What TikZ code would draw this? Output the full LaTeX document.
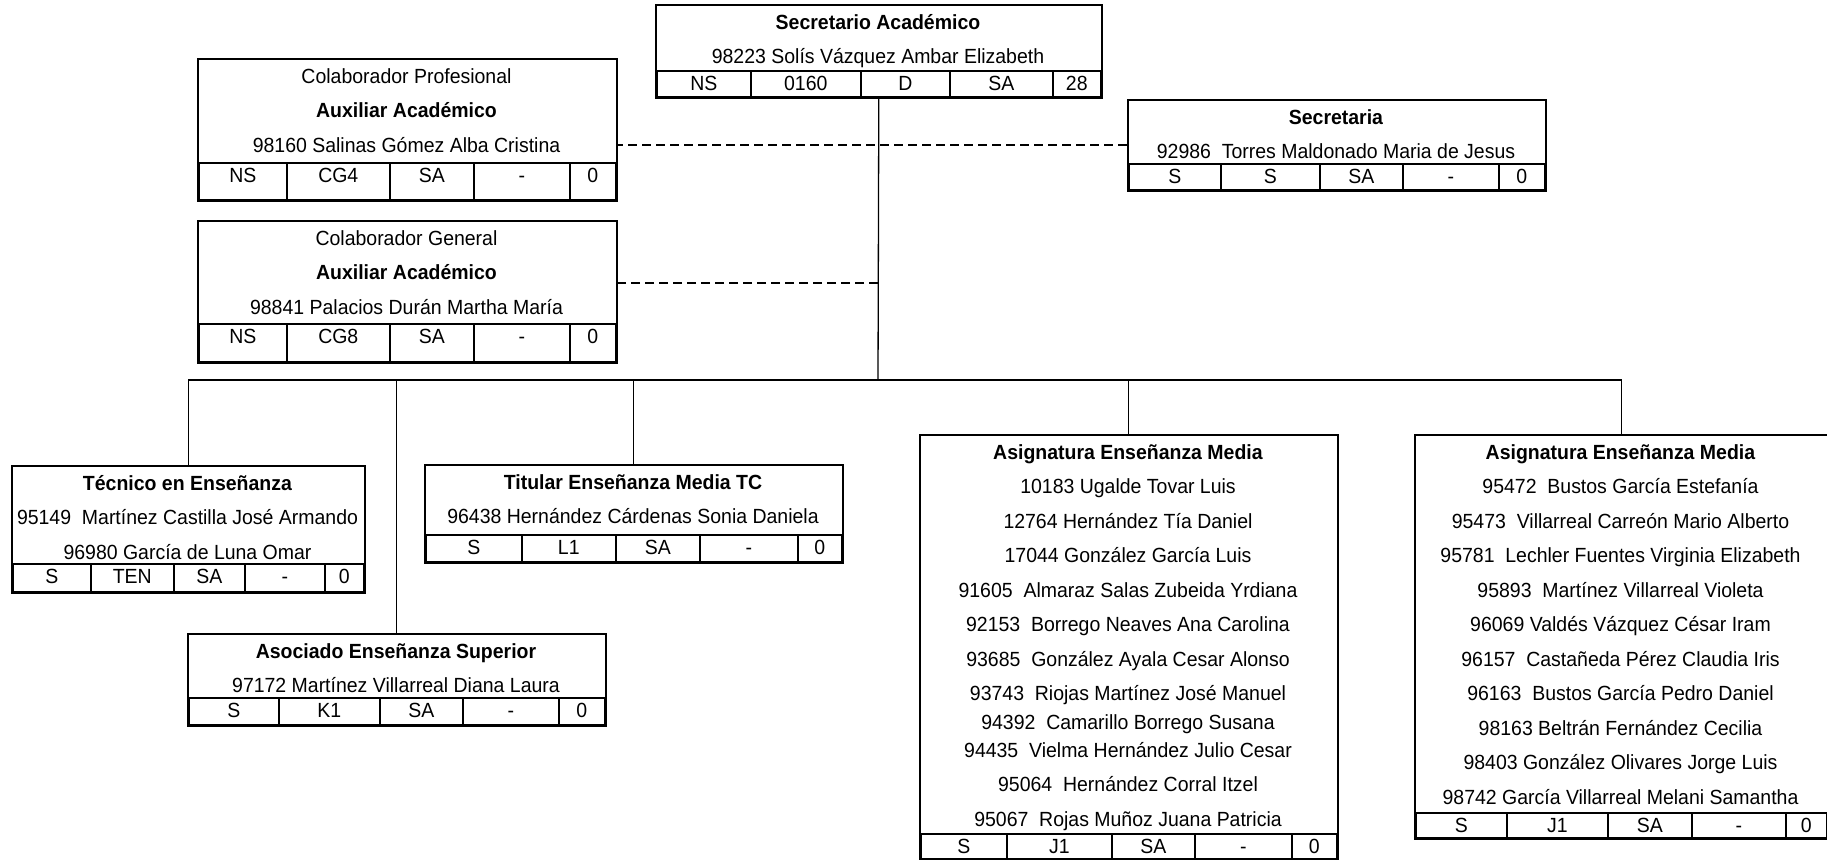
\documentclass[tikz,border=0pt]{standalone}
\usepackage{fontspec}
\setmainfont{Liberation Sans}[FakeStretch=0.95]
\usetikzlibrary{fit}

\begin{document}
\begin{tikzpicture}[
				x=1pt, y=-1pt,
				txt/.style={align=center, inner sep=0pt, anchor=north, font=\fontsize{20.5}{34.5}\selectfont},
				cell/.style={draw, line width=1.6pt, inner sep=0pt, anchor=north west, text height=20pt, font=\fontsize{20.5}{20}\selectfont},
				frame/.style={draw, line width=2.2pt, inner sep=0pt},
				link/.style={line width=1.3pt},
				dashlink/.style={line width=1.8pt, dash pattern=on 9pt off 5pt}
				]
				\useasboundingbox (0,0) rectangle (1827,859);
				
				\node[txt] (sa-t) at (878,5) {\strut\textbf{Secretario Académico}\\98223 Solís Vázquez Ambar Elizabeth};
				\foreach \xa/\xb/\val [count=\i] in {656/750/NS, 750/860/0160, 860/949/D, 949/1052/SA, 1052/1100/28}
					\node[cell, text depth=6pt, minimum width={(\xb-\xa)*1pt}] (sa\i) at (\xa,70) {\val};
				\node[frame, fit=(sa-t.north)(sa1)(sa5)] (sa) {};
				
				\node[txt] (sc-t) at (1336,100) {\strut\textbf{Secretaria}\\92986~ Torres Maldonado Maria de Jesus};
				\foreach \xa/\xb/\val [count=\i] in {1128/1220/S, 1220/1319/S, 1319/1402/SA, 1402/1498/-, 1498/1544/0}
					\node[cell, text depth=6pt, minimum width={(\xb-\xa)*1pt}] (sc\i) at (\xa,163) {\val};
				\node[frame, fit=(sc-t.north)(sc1)(sc5)] (sc) {};
				
				\node[txt] (cp-t) at (406.5,59) {\strut Colaborador Profesional\\\textbf{Auxiliar Académico}\\98160 Salinas Gómez Alba Cristina};
				\foreach \xa/\xb/\val [count=\i] in {198/286/NS, 286/389/CG4, 389/473/SA, 473/569/-, 569/615/0}
					\node[cell, text depth=17pt, minimum width={(\xb-\xa)*1pt}] (cp\i) at (\xa,162) {\val};
				\node[frame, fit=(cp-t.north)(cp1)(cp5)] (cp) {};
				
				\node[txt] (cg-t) at (406.5,221) {\strut Colaborador General\\\textbf{Auxiliar Académico}\\98841 Palacios Durán Martha María};
				\foreach \xa/\xb/\val [count=\i] in {198/286/NS, 286/389/CG8, 389/473/SA, 473/569/-, 569/615/0}
					\node[cell, text depth=18pt, minimum width={(\xb-\xa)*1pt}] (cg\i) at (\xa,323) {\val};
				\node[frame, fit=(cg-t.north)(cg1)(cg5)] (cg) {};
				
				\node[txt] (te-t) at (187.5,466) {\strut\textbf{Técnico en Enseñanza}\\95149~ Martínez Castilla José Armando\\96980 García de Luna Omar};
				\foreach \xa/\xb/\val [count=\i] in {12/90/S, 90/173/TEN, 173/244/SA, 244/324/-, 324/363/0}
					\node[cell, text depth=8pt, minimum width={(\xb-\xa)*1pt}] (te\i) at (\xa,563) {\val};
				\node[frame, fit=(te-t.north)(te1)(te5)] (te) {};
				
				\node[txt] (ti-t) at (633,465) {\strut\textbf{Titular Enseñanza Media TC}\\96438 Hernández Cárdenas Sonia Daniela};
				\foreach \xa/\xb/\val [count=\i] in {425/521/S, 521/615/L1, 615/699/SA, 699/797/-, 797/841/0}
					\node[cell, text depth=7pt, minimum width={(\xb-\xa)*1pt}] (ti\i) at (\xa,534) {\val};
				\node[frame, fit=(ti-t.north)(ti1)(ti5)] (ti) {};
				
				\node[txt] (as-t) at (396,634) {\strut\textbf{Asociado Enseñanza Superior}\\97172 Martínez Villarreal Diana Laura};
				\foreach \xa/\xb/\val [count=\i] in {188/278/S, 278/379/K1, 379/462/SA, 462/558/-, 558/604/0}
					\node[cell, text depth=7pt, minimum width={(\xb-\xa)*1pt}] (as\i) at (\xa,697) {\val};
				\node[frame, fit=(as-t.north)(as1)(as5)] (as) {};
				
				\node[txt] (am-t) at (1128,435) {\strut\textbf{Asignatura Enseñanza Media}\\10183 Ugalde Tovar Luis\\12764 Hernández Tía Daniel\\17044 González García Luis\\91605~ Almaraz Salas Zubeida Yrdiana\\92153~ Borrego Neaves Ana Carolina\\93685~ González Ayala Cesar Alonso\\93743~ Riojas Martínez José Manuel\\[-6pt]94392~ Camarillo Borrego Susana\\[-6.5pt]94435~ Vielma Hernández Julio Cesar\\95064~ Hernández Corral Itzel\\95067~ Rojas Muñoz Juana Patricia};
				\foreach \xa/\xb/\val [count=\i] in {920/1006/S, 1006/1111/J1, 1111/1194/SA, 1194/1291/-, 1291/1336/0}
					\node[cell, text depth=5pt, minimum width={(\xb-\xa)*1pt}] (am\i) at (\xa,833) {\val};
				\node[frame, fit=(am-t.north)(am1)(am5)] (am) {};
				
				\node[txt] (an-t) at (1620.5,435) {\strut\textbf{Asignatura Enseñanza Media}\\95472~ Bustos García Estefanía\\95473~ Villarreal Carreón Mario Alberto\\95781~ Lechler Fuentes Virginia Elizabeth\\95893~ Martínez Villarreal Violeta\\96069 Valdés Vázquez César Iram\\96157~ Castañeda Pérez Claudia Iris\\96163~ Bustos García Pedro Daniel\\98163 Beltrán Fernández Cecilia\\98403 González Olivares Jorge Luis\\98742 García Villarreal Melani Samantha};
				\foreach \xa/\xb/\val [count=\i] in {1415/1506/S, 1506/1607/J1, 1607/1691/SA, 1691/1785/-, 1785/1826/0}
					\node[cell, text depth=5pt, minimum width={(\xb-\xa)*1pt}] (an\i) at (\xa,812) {\val};
				\node[frame, fit=(an-t.north)(an1)(an5)] (an) {};
				
				\coordinate (bus) at (878,380);
				\coordinate (cgjoin) at (878,283);
				\draw[link] (sa.south) -- (bus);
				\foreach \n in {te,as,ti,am,an}
					\draw[link] (bus) -| (\n.north);
				\draw[dashlink] (sc.west) -- (sc.west -| cp.east);
				\draw[dashlink] (cgjoin) -- (cgjoin -| cg.east);
			\end{tikzpicture}
\end{document}
